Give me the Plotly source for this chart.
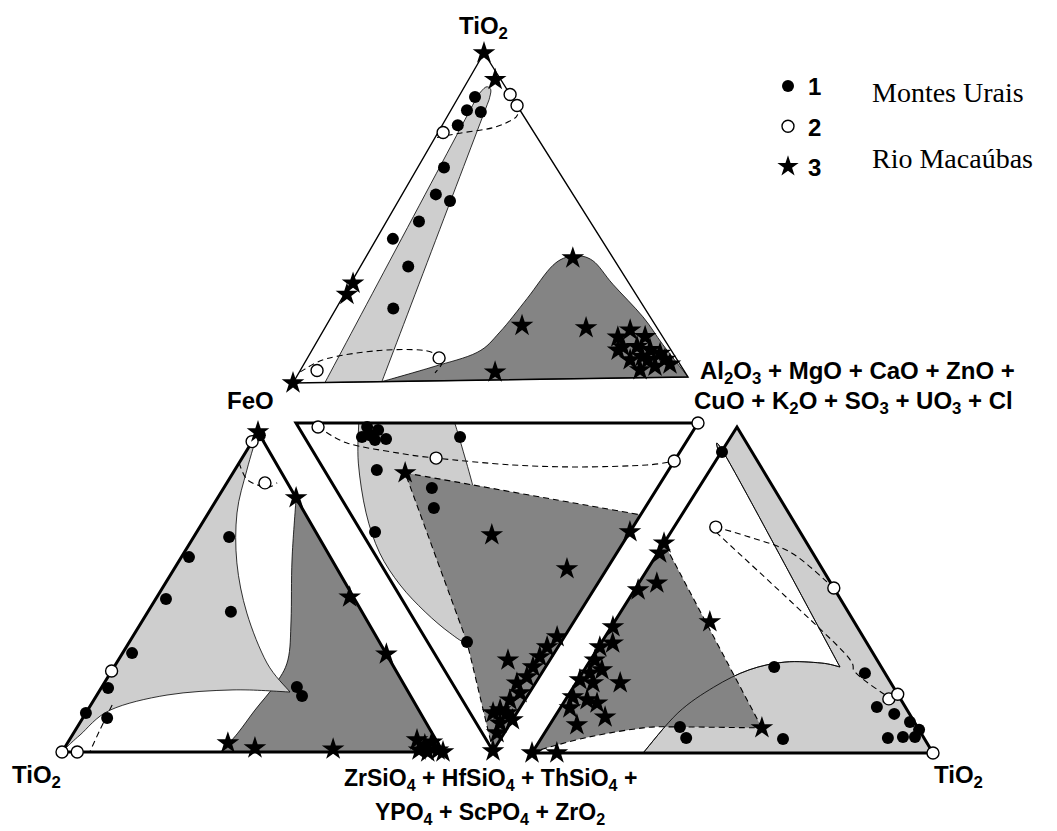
import numpy as np
import plotly.graph_objects as go

# ---------------------------------------------------------------------------
# Frame of each ternary face (pixel space); vertex order = component order
# ---------------------------------------------------------------------------
FACES = {
    "top":   [(484, 53), (293, 383), (688, 377)],   # TiO2, FeO, Al2O3+...
    "mid":   [(296, 423), (698, 423), (493, 751)],  # FeO, Al2O3+..., ZrSiO4+...
    "left":  [(258, 432), (62, 752), (443, 752)],   # FeO, TiO2, ZrSiO4+...
    "right": [(737, 427), (532, 753), (933, 753)],  # Al2O3+..., ZrSiO4+..., TiO2
}

# ---------------------------------------------------------------------------
# Compositions (%), one tuple per analysis, in each face's component order
# ---------------------------------------------------------------------------
# series 1 - Montes Urais (filled circles)
top_s1 = [(86.6, 9.2, 4.2), (82.6, 13.3, 4.1), (82.0, 10.1, 7.9), (78.0, 18.0, 4.0),
          (65.2, 28.1, 6.7), (57.0, 34.4, 8.6), (54.9, 31.9, 13.2), (48.8, 42.9, 8.3),
          (43.6, 52.2, 4.2), (35.1, 52.7, 12.2), (22.3, 63.1, 14.6)]
mid_s1 = [(81.4, 14.3, 4.3), (79.7, 16.6, 3.7), (78.5, 19.4, 2.1), (75.1, 20.0, 4.9),
          (81.7, 17.1, 1.2), (77.7, 17.1, 5.2), (57.0, 38.7, 4.3), (72.6, 13.1, 14.3),
          (56.1, 24.1, 19.8), (52.5, 21.6, 25.9), (63.4, 3.4, 33.2), (23.4, 9.8, 66.8)]
left_s1 = [(99.0, 0.0, 1.0), (67.2, 23.5, 9.3), (60.9, 37.1, 2.0), (47.8, 49.5, 2.7),
           (43.8, 34.4, 21.8), (30.9, 66.6, 2.5), (20.0, 78.2, 1.8), (12.2, 87.8, 0.0),
           (10.6, 83.0, 6.4), (20.3, 28.5, 51.2), (17.5, 28.5, 54.0)]
right_s1 = [(92.3, 7.5, 0.2), (26.4, 26.7, 46.9), (24.5, 5.0, 70.5), (14.1, 7.1, 78.8),
            (12.0, 3.8, 84.2), (9.5, 1.1, 89.4), (7.1, 0.0, 92.9), (4.6, 9.0, 86.4),
            (4.9, 5.1, 90.0), (4.9, 2.1, 93.0), (8.0, 59.2, 32.8), (4.6, 59.3, 36.1),
            (4.3, 35.3, 60.4)]

# series 2 - Montes Urais (open circles)
top_s2 = [(87.2, 0.0, 12.8), (83.8, 0.0, 16.2), (75.9, 22.8, 1.3), (3.7, 92.0, 4.3),
          (7.0, 59.4, 33.6)]
mid_s2 = [(93.9, 4.9, 1.2), (59.7, 29.6, 10.7), (0.0, 100.0, 0.0), (0.0, 88.4, 11.6)]
left_s2 = [(97.0, 3.0, 0.0), (84.1, 5.9, 10.0), (25.3, 74.7, 0.0), (0.0, 100.0, 0.0),
           (0.0, 96.0, 4.0)]
right_s2 = [(69.3, 20.3, 10.4), (50.6, 0.0, 49.4), (16.6, 2.9, 80.5), (18.0, 0.0, 82.0),
            (0.0, 0.0, 100.0)]

# series 3 - Rio Macaubas (stars)
top_s3 = [(100, 0, 0), (91.8, 1.4, 6.8), (30.2, 69.2, 0.6), (26.8, 72.5, 0.7),
          (0, 100, 0), (36.9, 10.1, 53.0), (16.5, 33.5, 50.0), (15.5, 17.8, 66.7),
          (2.4, 47.6, 50.0), (14.6, 7.1, 78.3), (12.5, 11.3, 76.2), (12.5, 4.4, 83.1),
          (9.5, 11.6, 79.0), (9.5, 8.0, 82.5), (8.5, 5.2, 86.3), (7.3, 3.3, 89.4),
          (6.4, 8.3, 85.3), (5.5, 11.8, 82.7), (5.5, 7.3, 87.2), (5.5, 3.0, 91.5),
          (3.4, 6.6, 90.0), (4.0, 2.5, 93.5), (2.4, 10.9, 86.7), (8.5, 13.3, 78.2)]
mid_s3 = [(65.1, 19.7, 15.2), (33.9, 32.0, 34.1), (9.9, 45.6, 44.5), (0.0, 66.8, 33.2),
          (10.4, 17.3, 72.3), (1.8, 33.0, 65.2), (2.7, 29.0, 68.3), (3.0, 25.7, 71.3),
          (3.1, 22.5, 74.4), (3.1, 19.5, 77.4), (4.6, 16.1, 79.3), (2.3, 15.4, 82.3),
          (3.7, 11.8, 84.5), (4.6, 7.9, 87.5), (5.9, 5.7, 88.4), (2.4, 9.2, 88.4),
          (0.0, 9.5, 90.5), (2.6, 5.9, 91.5), (1.8, 3.7, 94.5), (0.0, 0.0, 100.0)]
left_s3 = [(100, 0, 0), (79.4, 0.0, 20.6), (48.4, 1.0, 50.6), (30.6, 0.0, 69.4),
           (2.8, 55.1, 42.1), (1.25, 48.75, 50.0), (0.9, 28.4, 70.7), (3.75, 5.0, 91.25),
           (2.2, 3.7, 94.1), (3.1, 1.4, 95.5), (0.6, 1.0, 98.4), (0.0, 4.0, 96.0),
           (0.0, 0.0, 100.0), (0.6, 6.0, 93.4)]
right_s3 = [(64.4, 35.6, 0.0), (61.3, 38.2, 0.5), (52.1, 43.4, 4.5), (50.0, 49.1, 0.9),
            (40.2, 36.0, 23.8), (38.7, 60.9, 0.4), (33.7, 63.4, 2.9), (32.5, 67.2, 0.3),
            (28.5, 70.4, 1.1), (25.5, 70.1, 4.4), (21.5, 67.5, 11.0), (24.5, 73.6, 1.9),
            (22.4, 77.1, 0.5), (21.5, 74.3, 4.2), (17.2, 81.4, 1.4), (16.3, 78.3, 5.4),
            (15.3, 76.3, 8.4), (13.8, 83.8, 2.4), (11.0, 76.4, 12.6), (8.6, 84.6, 6.8),
            (7.7, 38.9, 53.4), (0.0, 100.0, 0.0), (0.0, 93.8, 6.2)]

# ---------------------------------------------------------------------------
# Compositional fields (outlines as runs of compositions; runs meet at corners)
# ---------------------------------------------------------------------------
top_light = [[(0, 91.9, 8.1), (87.2, 8.1, 4.7)],
             [(87.2, 8.1, 4.7), (89.6, 4.9, 5.5), (88.7, 4.1, 7.2), (85.7, 6.1, 8.2)],
             [(85.7, 6.1, 8.2), (0, 77.5, 22.5)],
             [(0, 77.5, 22.5), (0, 91.9, 8.1)]]
top_dark = [[(0, 77.5, 22.5), (4.3, 62.3, 33.4), (8.5, 49.0, 42.5), (14.6, 40.1, 45.3),
             (24.7, 28.0, 47.3), (34.8, 16.2, 49.0), (37.5, 9.7, 52.8), (36.0, 5.5, 58.5),
             (28.7, 4.2, 67.1), (18.6, 1.8, 79.6), (10.0, 1.2, 88.8), (0, 0, 100)],
            [(0, 0, 100), (0, 77.5, 22.5)]]
top_dash = [[(74.4, 25.1, 0.5), (75.6, 18.7, 5.7), (77.1, 9.6, 13.3), (79.6, 3.2, 17.2),
             (81.1, 1.2, 17.7)],
            [(3.4, 96.4, 0.2), (7.3, 87.6, 5.1), (9.5, 73.8, 16.7), (9.5, 62.9, 27.6),
             (7.9, 59.5, 32.6), (5.5, 59.4, 35.1), (2.4, 62.8, 34.8)]]

mid_light = [[(84.4, 15.6, 0), (78.1, 9.5, 12.2), (68.6, 4.0, 27.4), (59.0, 1.4, 39.6),
              (48.9, 1.7, 49.4), (38.5, 3.9, 57.6), (29.1, 6.9, 64.0), (23.4, 9.8, 66.8),
              (23.2, 14.6, 62.2), (29.3, 22.8, 47.9), (39.1, 31.3, 29.6), (46.0, 34.5, 19.5),
              (55.0, 37.7, 7.3), (60.5, 39.5, 0)],
             [(60.5, 39.5, 0), (84.4, 15.6, 0)]]
mid_dark = [[(65.1, 19.7, 15.2), (0, 72, 28)],
            [(0, 72, 28), (0, 0, 100)],
            [(0, 0, 100), (23.4, 9.8, 66.8)],
            [(23.4, 9.8, 66.8), (65.1, 19.7, 15.2)]]
mid_dash = [[(65.1, 19.7, 15.2), (0, 72, 28)],
            [(0, 0, 100), (23.4, 9.8, 66.8)],
            [(23.4, 9.8, 66.8), (65.1, 19.7, 15.2)],
            [(93.9, 4.9, 1.2), (84.2, 9.7, 6.1), (70.2, 20.7, 9.1), (59.7, 29.6, 10.7),
             (39.5, 47.7, 12.8), (22.5, 64.1, 13.4), (6.2, 81.0, 12.8), (0, 88.4, 11.6)]]

left_dark = [[(79.4, 0, 20.6), (0, 0, 100)],
             [(0, 0, 100), (0, 58.3, 41.7)],
             [(0, 58.3, 41.7), (5.9, 51.0, 43.1), (13.1, 43.0, 43.9), (20.9, 34.0, 45.1),
              (28.75, 26.75, 44.5), (41.25, 19.85, 38.9), (60.0, 10.5, 29.5), (79.4, 0, 20.6)]]
left_light = [[(100, 0, 0), (0, 100, 0)],
              [(0, 100, 0), (1.6, 97.9, 0.5), (5.3, 92.7, 2.0), (13.1, 81.0, 5.9),
               (17.8, 63.8, 18.4), (19.4, 45.7, 34.9), (18.75, 31.05, 50.2)],
              [(18.75, 31.05, 50.2), (27.8, 32.7, 39.5), (43.4, 30.4, 26.2), (59.1, 25.4, 15.5),
               (74.7, 17.8, 7.5), (88.1, 8.7, 3.2), (100, 0, 0)]]
left_dash = [[(14.7, 79.7, 5.6), (6.9, 86.7, 6.4), (0, 92.7, 7.3)],
             [(90.3, 9.7, 0), (85.0, 10.0, 5.0), (82.8, 6.0, 11.2), (84.1, 2.7, 13.2)]]

right_light = [[(91.4, 8.6, 0), (100, 0, 0)],
               [(100, 0, 0), (0, 0, 100)],
               [(0, 0, 100), (0, 72.3, 27.7)],
               [(0, 72.3, 27.7), (12.3, 57.6, 30.1), (20.2, 44.8, 35.0), (25.5, 33.4, 41.1),
                (27.9, 23.3, 48.8), (27.6, 14.4, 58.0), (26.4, 10.3, 63.3)],
               [(26.4, 10.3, 63.3), (89.9, 7.2, 2.9), (91.4, 8.6, 0)]]
right_light_edge = [right_light[3], right_light[4]]
right_dark = [[(64.4, 35.6, 0), (0, 100, 0)],
              [(0, 100, 0), (0.9, 97.8, 1.3), (4.9, 83.4, 11.7), (7.7, 68.5, 23.8),
               (8.0, 59.7, 32.3), (7.7, 38.9, 53.4)],
              [(7.7, 38.9, 53.4), (64.4, 35.6, 0)]]
right_dash = [right_dark[1], right_dark[2],
              [(69.3, 20.3, 10.4), (66.3, 13.5, 20.2), (61.3, 5.2, 33.5), (50.6, 0, 49.4)],
              [(67.8, 21.0, 11.2), (32.5, 7.6, 59.9), (24.5, 7.2, 68.3), (17.2, 2.8, 80.0)]]

LIGHT, DARK = "#cecece", "#848484"
DASH = "6px,4px"


def to_xy(face, comp):
    """Barycentric mapping of a composition onto a face frame."""
    c = np.asarray(comp, float)
    c = c / c.sum()
    v = np.asarray(FACES[face], float)
    return c @ v


def points(face, comps):
    xy = np.array([to_xy(face, c) for c in comps])
    return xy[:, 0], xy[:, 1]


def fmt(p):
    return f"{p[0]:.2f},{p[1]:.2f}"


def path(face, runs, close=True):
    """SVG path: each run is a smooth Catmull-Rom curve; runs join at corners."""
    d = ""
    for k, run in enumerate(runs):
        P = [to_xy(face, c) for c in run]
        if k == 0:
            d += "M" + fmt(P[0])
        ext = [P[0]] + P + [P[-1]]
        for i in range(1, len(P)):
            p0, p1, p2, p3 = ext[i - 1], ext[i], ext[i + 1], ext[i + 2]
            c1 = p1 + (p2 - p0) / 6.0
            c2 = p2 - (p3 - p1) / 6.0
            d += " C" + fmt(c1) + " " + fmt(c2) + " " + fmt(p2)
    return d + (" Z" if close else "")


shapes = []


def field(face, runs, color, line_w=0.8):
    shapes.append(dict(type="path", path=path(face, runs), xref="x", yref="y",
                       fillcolor=color, line=dict(color="black", width=line_w),
                       layer="below"))


def curve(face, run, dash=None, w=1.1):
    shapes.append(dict(type="path", path=path(face, [run], close=False), xref="x", yref="y",
                       line=dict(color="black", width=w, dash=dash), layer="below"))


# fields
field("top", top_light, LIGHT)
field("top", top_dark, DARK)
field("mid", mid_light, LIGHT)
field("mid", mid_dark, DARK, line_w=0)
field("left", left_dark, DARK)
field("left", left_light, LIGHT)
field("right", right_light, LIGHT)
field("right", right_dark, DARK, line_w=0)
curve("right", right_light_edge[0], w=0.8)
curve("right", right_light_edge[1], w=0.8)

# dashed tie outlines
for run in top_dash:
    curve("top", run, dash=DASH)
for run in mid_dash:
    curve("mid", run, dash=DASH)
for run in left_dash:
    curve("left", run, dash=DASH)
for run in right_dash:
    curve("right", run, dash=DASH)

# face frames
for face, w in [("top", 1.4), ("mid", 3), ("left", 3), ("right", 3)]:
    v = FACES[face]
    shapes.append(dict(type="path", xref="x", yref="y", layer="below",
                       path=f"M{v[0][0]},{v[0][1]} L{v[1][0]},{v[1][1]} L{v[2][0]},{v[2][1]} Z",
                       line=dict(color="black", width=w)))

fig = go.Figure()

series = [
    ("<b>1</b>", dict(top=top_s1, mid=mid_s1, left=left_s1, right=right_s1),
     dict(symbol="circle", size=12, color="black", line=dict(color="black", width=0))),
    ("<b>2</b>", dict(top=top_s2, mid=mid_s2, left=left_s2, right=right_s2),
     dict(symbol="circle", size=12, color="white", line=dict(color="black", width=1.4))),
    ("<b>3</b>", dict(top=top_s3, mid=mid_s3, left=left_s3, right=right_s3),
     dict(symbol="star", size=17, color="black", line=dict(color="black", width=0))),
]
for name, faces, marker in series:
    xs, ys = [], []
    for face, comps in faces.items():
        x, y = points(face, comps)
        xs.extend(x)
        ys.extend(y)
    fig.add_trace(go.Scatter(x=xs, y=ys, mode="markers", name=name, marker=marker,
                             legendgroup=name, cliponaxis=False))

bold = dict(family="Liberation Sans, Arial, sans-serif", size=24, color="black")
bold_sm = dict(family="Liberation Sans, Arial, sans-serif", size=23, color="black")
serif = dict(family="Liberation Serif, Times New Roman, serif", size=28, color="black")

annotations = [
    dict(x=483, y=27, text="<b>TiO<sub>2</sub></b>", font=bold),
    dict(x=250, y=400, text="<b>FeO</b>", font=bold),
    dict(x=698, y=372, xanchor="left",
         text="<b>Al<sub>2</sub>O<sub>3</sub> + MgO + CaO + ZnO +</b>", font=bold),
    dict(x=692, y=402, xanchor="left",
         text="<b>CuO + K<sub>2</sub>O + SO<sub>3</sub> + UO<sub>3</sub> + Cl</b>", font=bold),
    dict(x=36, y=776, text="<b>TiO<sub>2</sub></b>", font=bold),
    dict(x=958, y=776, text="<b>TiO<sub>2</sub></b>", font=bold),
    dict(x=490, y=779, text="<b>ZrSiO<sub>4</sub> + HfSiO<sub>4</sub> + ThSiO<sub>4</sub> +</b>",
         font=bold_sm),
    dict(x=490, y=813, text="<b>YPO<sub>4</sub> + ScPO<sub>4</sub> + ZrO<sub>2</sub></b>",
         font=bold_sm),
    dict(x=870, y=92, xanchor="left", text="Montes Urais", font=serif),
    dict(x=870, y=158, xanchor="left", text="Rio Macaúbas", font=serif),
]
for a in annotations:
    a.update(xref="x", yref="y", showarrow=False)

fig.update_layout(
    width=1057, height=831,
    margin=dict(l=0, r=0, t=0, b=0),
    paper_bgcolor="white", plot_bgcolor="white",
    xaxis=dict(range=[0, 1057], visible=False),
    yaxis=dict(range=[831, 0], visible=False),
    shapes=shapes,
    annotations=annotations,
    showlegend=True,
    legend=dict(x=768 / 1057, y=1 - 64 / 831, xanchor="left", yanchor="top",
                font=dict(family="Liberation Sans, Arial, sans-serif", size=24, color="black"),
                tracegroupgap=6, bgcolor="rgba(0,0,0,0)", itemwidth=30),
)

fig.write_html("out.html")
